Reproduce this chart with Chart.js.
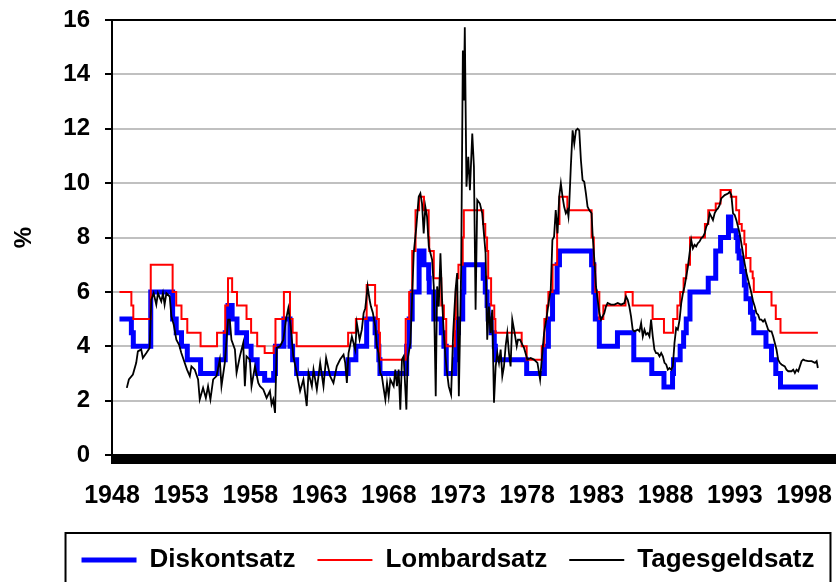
<!DOCTYPE html>
<html>
<head>
<meta charset="utf-8">
<title>Diskontsatz, Lombardsatz, Tagesgeldsatz 1948-1998</title>
<script src="https://cdn.jsdelivr.net/npm/chart.js@4.4.1/dist/chart.umd.min.js"></script>
<style>
    html, body { margin: 0; padding: 0; background: #fff; overflow: hidden; }
    #wrap { width: 896px; height: 600px; }
</style>
</head>
<body>
<div id="wrap"><canvas id="zinsChart" width="896" height="600"></canvas></div>
<script>
/* ==============================
   DATEN
================================ */
const seriesNames = ["Diskontsatz", "Lombardsatz", "Tagesgeldsatz"];
const yTicks = [0, 2, 4, 6, 8, 10, 12, 14, 16];
const yearLabels = [1948, 1953, 1958, 1963, 1968, 1973, 1978, 1983, 1988, 1993, 1998];

// Diskontsatz: Jahr der Änderung -> neuer Satz
const discYears = [1948.54, 1949.4, 1949.54, 1950.8, 1952.38, 1952.64, 1953.02, 1953.44, 1954.4, 1955.59,
    1956.18, 1956.38, 1956.68, 1957.03, 1957.72, 1958.05, 1958.49, 1959.03, 1959.68, 1959.81,
    1960.42, 1960.86, 1961.05, 1961.34, 1965.06, 1965.62, 1966.4, 1967.01, 1967.13, 1967.28,
    1967.36, 1969.29, 1969.47, 1969.69, 1970.19, 1970.54, 1970.88, 1970.92, 1971.25, 1971.79,
    1971.98, 1972.15, 1972.77, 1972.84, 1972.92, 1973.03, 1973.34, 1973.42, 1974.82, 1974.97,
    1975.1, 1975.18, 1975.39, 1975.62, 1975.7, 1977.96, 1979.24, 1979.53, 1979.83, 1980.16,
    1980.33, 1982.65, 1982.81, 1982.92, 1983.21, 1984.52, 1985.7, 1987.0, 1987.88, 1988.5,
    1988.57, 1989.05, 1989.3, 1989.49, 1989.76, 1991.08, 1991.62, 1991.97, 1992.54, 1992.71,
    1993.1, 1993.21, 1993.31, 1993.5, 1993.69, 1993.81, 1994.13, 1994.29, 1994.37, 1995.25,
    1995.65, 1995.96, 1996.3, 1999.0];
const discRates = [5, 4.5, 4, 6, 5, 4.5, 4, 3.5, 3, 3.5,
    4.5, 5.5, 5, 4.5, 4, 3.5, 3, 2.75, 3, 4,
    5, 4, 3.5, 3, 3.5, 4, 5, 4.5, 4, 3.5,
    3, 4, 5, 6, 7.5, 7, 6.5, 6, 5, 4.5,
    4, 3, 3.5, 4, 4.5, 5, 6, 7, 6.5, 6,
    5.5, 5, 4.5, 4, 3.5, 3, 4, 5, 6, 7,
    7.5, 7, 6, 5, 4, 4.5, 3.5, 3, 2.5, 3,
    3.5, 4, 4.5, 5, 6, 6.5, 7.5, 8, 8.75, 8.25,
    8, 7.5, 7.25, 6.75, 6.25, 5.75, 5.25, 5, 4.5, 4,
    3.5, 3, 2.5, 2.5];

// Lombardsatz: Jahr der Änderung -> neuer Satz
const lombYears = [1948.54, 1949.4, 1949.54, 1950.8, 1952.38, 1952.64, 1953.02, 1953.44, 1954.4, 1955.59,
    1956.18, 1956.38, 1956.68, 1957.03, 1957.72, 1958.05, 1958.49, 1959.03, 1959.68, 1959.81,
    1960.42, 1960.86, 1961.05, 1961.34, 1965.06, 1965.62, 1966.4, 1967.01, 1967.13, 1967.28,
    1967.36, 1969.22, 1969.47, 1969.69, 1969.93, 1970.19, 1970.54, 1970.88, 1970.92, 1971.25,
    1971.79, 1971.98, 1972.15, 1972.77, 1972.84, 1972.92, 1973.03, 1973.34, 1973.42, 1974.82,
    1974.97, 1975.1, 1975.18, 1975.39, 1975.62, 1975.7, 1977.6, 1977.96, 1979.05, 1979.24,
    1979.42, 1979.53, 1979.83, 1980.16, 1980.33, 1980.9, 1982.65, 1982.81, 1982.92, 1983.21,
    1983.5, 1985.1, 1985.62, 1987.06, 1987.88, 1988.54, 1988.85, 1989.05, 1989.3, 1989.49,
    1989.76, 1990.84, 1991.08, 1991.62, 1991.97, 1992.71, 1993.1, 1993.31, 1993.5, 1993.69,
    1993.81, 1994.13, 1994.29, 1994.37, 1995.65, 1995.96, 1996.3, 1999.0];
const lombRates = [6, 5.5, 5, 7, 6, 5.5, 5, 4.5, 4, 4.5,
    5.5, 6.5, 6, 5.5, 5, 4.5, 4, 3.75, 4, 5,
    6, 5, 4.5, 4, 4.5, 5, 6.25, 5.5, 5, 4.5,
    3.5, 5, 6, 7.5, 9, 9.5, 9, 8, 7.5, 6.5,
    5.5, 5, 4, 5, 6, 6.5, 7, 8, 9, 8.5,
    8, 7.5, 6.5, 5.5, 5, 4.5, 4, 3.5, 4, 5,
    5.5, 6, 7, 8.5, 9.5, 9, 8, 7, 6, 5,
    5.5, 6, 5.5, 5, 4.5, 5, 5.5, 6, 6.5, 7,
    8, 8.5, 9, 9.25, 9.75, 9.5, 9, 8.5, 8.25, 7.75,
    7.25, 6.75, 6.5, 6, 5.5, 5, 4.5, 4.5];

// Tagesgeldsatz
const callYears = [1949.07, 1949.22, 1949.51, 1949.75, 1949.87, 1950.11, 1950.23, 1950.48, 1950.72, 1950.84,
    1951.01, 1951.2, 1951.32, 1951.56, 1951.68, 1951.8, 1951.93, 1952.17, 1952.29, 1952.46,
    1952.65, 1952.84, 1953.01, 1953.25, 1953.42, 1953.62, 1953.74, 1953.98, 1954.22, 1954.34,
    1954.58, 1954.78, 1954.94, 1955.11, 1955.31, 1955.55, 1955.79, 1955.91, 1956.15, 1956.39,
    1956.51, 1956.63, 1956.88, 1957.0, 1957.24, 1957.48, 1957.6, 1957.72, 1957.96, 1958.08,
    1958.33, 1958.57, 1958.69, 1958.93, 1959.17, 1959.41, 1959.53, 1959.65, 1959.78, 1959.9,
    1960.14, 1960.38, 1960.57, 1960.74, 1960.91, 1961.1, 1961.35, 1961.59, 1961.83, 1962.07,
    1962.2, 1962.44, 1962.56, 1962.8, 1963.04, 1963.28, 1963.47, 1963.76, 1964.0, 1964.24,
    1964.48, 1964.73, 1964.85, 1964.97, 1965.09, 1965.33, 1965.57, 1965.69, 1965.89, 1966.05,
    1966.18, 1966.3, 1966.47, 1966.61, 1966.71, 1966.85, 1967.02, 1967.14, 1967.26, 1967.38,
    1967.5, 1967.62, 1967.75, 1967.87, 1967.99, 1968.11, 1968.35, 1968.47, 1968.59, 1968.71,
    1968.83, 1968.95, 1969.07, 1969.27, 1969.36, 1969.56, 1969.68, 1969.8, 1969.99, 1970.16,
    1970.28, 1970.4, 1970.52, 1970.64, 1970.76, 1970.89, 1971.01, 1971.13, 1971.25, 1971.39,
    1971.49, 1971.61, 1971.73, 1971.85, 1971.97, 1972.09, 1972.21, 1972.33, 1972.5, 1972.65,
    1972.82, 1972.94, 1973.06, 1973.23, 1973.35, 1973.42, 1973.49, 1973.61, 1973.74, 1973.86,
    1974.03, 1974.15, 1974.27, 1974.39, 1974.58, 1974.75, 1974.87, 1974.99, 1975.11, 1975.23,
    1975.35, 1975.47, 1975.6, 1975.72, 1975.84, 1975.96, 1976.08, 1976.2, 1976.32, 1976.44,
    1976.56, 1976.68, 1976.8, 1976.92, 1977.09, 1977.24, 1977.33, 1977.48, 1977.65, 1977.77,
    1978.01, 1978.25, 1978.49, 1978.74, 1978.93, 1979.03, 1979.22, 1979.41, 1979.58, 1979.7,
    1979.82, 1979.94, 1980.06, 1980.19, 1980.31, 1980.43, 1980.55, 1980.67, 1980.79, 1980.91,
    1980.98, 1981.03, 1981.15, 1981.28, 1981.4, 1981.52, 1981.64, 1981.76, 1981.88, 1982.0,
    1982.12, 1982.24, 1982.36, 1982.48, 1982.65, 1982.72, 1982.85, 1982.97, 1983.09, 1983.21,
    1983.33, 1983.45, 1983.57, 1983.69, 1983.81, 1984.05, 1984.3, 1984.54, 1984.78, 1985.02,
    1985.14, 1985.26, 1985.38, 1985.5, 1985.62, 1985.74, 1985.99, 1986.11, 1986.23, 1986.35,
    1986.47, 1986.59, 1986.71, 1986.83, 1986.95, 1987.07, 1987.19, 1987.31, 1987.43, 1987.56,
    1987.68, 1987.8, 1987.92, 1988.04, 1988.16, 1988.28, 1988.4, 1988.52, 1988.64, 1988.76,
    1988.88, 1989.01, 1989.13, 1989.25, 1989.37, 1989.49, 1989.61, 1989.73, 1989.85, 1989.97,
    1990.09, 1990.21, 1990.33, 1990.45, 1990.57, 1990.7, 1990.82, 1990.94, 1991.06, 1991.18,
    1991.3, 1991.42, 1991.54, 1991.66, 1991.78, 1991.9, 1992.02, 1992.27, 1992.51, 1992.63,
    1992.75, 1992.87, 1992.99, 1993.11, 1993.23, 1993.35, 1993.47, 1993.59, 1993.71, 1993.84,
    1993.96, 1994.08, 1994.2, 1994.32, 1994.44, 1994.56, 1994.68, 1994.8, 1994.92, 1995.04,
    1995.16, 1995.29, 1995.41, 1995.53, 1995.65, 1995.77, 1995.89, 1996.01, 1996.13, 1996.25,
    1996.37, 1996.61, 1996.73, 1996.86, 1997.1, 1997.22, 1997.34, 1997.46, 1997.58, 1997.82,
    1997.94, 1998.06, 1998.3, 1998.55, 1998.79, 1998.91, 1999.0];
const callRates = [2.47, 2.78, 2.96, 3.39, 3.81, 3.88, 3.57, 3.75, 3.94, 5.71,
    5.95, 5.53, 5.95, 5.65, 5.95, 5.53, 5.95, 5.83, 5.1, 4.79,
    4.24, 4.06, 3.75, 3.39, 3.14, 2.9, 3.26, 3.14, 2.78, 2.04,
    2.47, 2.1, 2.53, 2.04, 2.78, 2.9, 3.51, 2.53, 3.39, 4.98,
    4.98, 4.24, 3.88, 3.02, 3.63, 4.12, 2.53, 3.63, 3.51, 2.53,
    3.26, 2.65, 2.53, 2.41, 2.1, 2.35, 1.86, 2.04, 1.55, 3.94,
    4.0, 4.24, 4.98, 5.4, 4.73, 3.63, 3.02, 2.35, 2.78, 1.8,
    3.02, 2.53, 3.14, 2.41, 3.39, 2.53, 3.57, 2.9, 2.65, 3.26,
    3.51, 3.69, 3.39, 2.65, 3.75, 4.36, 3.88, 4.85, 4.24, 4.61,
    5.22, 5.4, 6.2, 5.71, 5.46, 5.22, 4.73, 4.0, 3.75, 3.02,
    2.9, 2.47, 2.04, 2.65, 2.16, 2.78, 2.53, 3.14, 2.53, 3.14,
    1.67, 3.51, 3.63, 1.67, 3.51, 4.12, 5.71, 7.42, 8.4, 9.5,
    9.62, 9.25, 8.15, 9.13, 8.77, 7.67, 7.42, 7.18, 6.2, 2.16,
    6.2, 5.46, 7.42, 5.71, 4.49, 3.63, 3.02, 2.53, 2.22, 4.49,
    6.08, 6.69, 2.16, 6.93, 14.88, 13.04, 15.73, 9.87, 10.97, 9.74,
    11.82, 10.6, 5.34, 9.38, 9.25, 8.89, 8.15, 7.42, 4.24, 5.46,
    4.49, 5.34, 1.92, 3.26, 3.75, 3.39, 3.88, 2.9, 3.26, 4.0,
    4.49, 3.75, 3.26, 4.98, 4.49, 4.0, 4.24, 4.24, 4.06, 3.94,
    3.51, 3.57, 3.51, 3.39, 2.78, 3.39, 4.49, 5.1, 5.71, 6.08,
    7.91, 8.03, 9.01, 8.15, 9.5, 9.99, 9.5, 9.13, 8.89, 9.01,
    8.77, 9.13, 10.6, 11.94, 11.45, 11.94, 12.0, 11.94, 10.84, 10.11,
    10.05, 9.62, 9.13, 9.01, 8.89, 8.15, 7.18, 6.2, 5.71, 5.22,
    4.98, 5.1, 5.22, 5.46, 5.59, 5.53, 5.53, 5.59, 5.53, 5.59,
    5.83, 5.71, 5.46, 5.1, 4.61, 4.55, 4.61, 4.55, 4.85, 4.36,
    4.61, 4.43, 4.49, 4.36, 4.98, 4.36, 3.88, 3.75, 3.75, 3.63,
    3.75, 3.63, 3.39, 3.33, 3.14, 3.2, 3.14, 3.26, 4.12, 4.67,
    4.61, 4.98, 5.59, 5.95, 6.2, 6.56, 6.93, 7.42, 7.91, 7.6,
    7.73, 7.67, 7.79, 7.85, 7.97, 8.03, 8.15, 8.4, 8.52, 8.89,
    8.77, 8.64, 8.89, 9.01, 9.07, 9.19, 9.44, 9.56, 9.62, 9.68,
    9.56, 8.89, 8.83, 8.64, 8.4, 8.15, 7.79, 7.42, 7.05, 6.69,
    6.44, 6.2, 5.95, 5.65, 5.46, 5.22, 5.16, 4.98, 4.98, 4.91,
    4.98, 4.79, 4.61, 4.55, 4.55, 4.36, 4.12, 3.88, 3.51, 3.39,
    3.33, 3.26, 3.14, 3.08, 3.08, 3.14, 3.02, 3.14, 3.08, 3.45,
    3.51, 3.48, 3.45, 3.45, 3.39, 3.45, 3.2];

/* ==============================
   CHART
================================ */
function toPoints(xs, ys) {
    return xs.map((x, i) => ({ x: x, y: ys[i] }));
}

const legendFrame = {
    id: "legendFrame",
    afterDraw(chart) {
        const boxes = chart.legend.legendHitBoxes;
        if (!boxes || !boxes.length) return;
        const left = Math.min(...boxes.map(b => b.left)) - 16;
        const right = Math.max(...boxes.map(b => b.left + b.width)) + 16;
        const top = boxes[0].top - 14;
        const ctx = chart.ctx;
        ctx.save();
        ctx.strokeStyle = "#000";
        ctx.lineWidth = 2;
        ctx.strokeRect(left, top, right - left, 100);
        ctx.restore();
    }
};

Chart.defaults.font.family = "'Liberation Sans', Arial, sans-serif";
Chart.defaults.font.weight = "bold";
Chart.defaults.font.size = 25;
Chart.defaults.color = "#000";

new Chart(document.getElementById("zinsChart"), {
    type: "line",
    data: {
        datasets: [
            {
                label: seriesNames[2],
                data: toPoints(callYears, callRates),
                borderColor: "#000000",
                borderWidth: 1.8,
                pointRadius: 0,
                tension: 0
            },
            {
                label: seriesNames[1],
                data: toPoints(lombYears, lombRates),
                borderColor: "#ff0000",
                borderWidth: 2,
                pointRadius: 0,
                stepped: true
            },
            {
                label: seriesNames[0],
                data: toPoints(discYears, discRates),
                borderColor: "#0000ff",
                borderWidth: 5,
                pointRadius: 0,
                stepped: true
            }
        ]
    },
    options: {
        responsive: false,
        animation: false,
        events: [],
        layout: { padding: { top: 20, right: 0, bottom: 17, left: 0 } },
        plugins: {
            tooltip: { enabled: false },
            legend: {
                position: "bottom",
                reverse: true,
                labels: {
                    font: { size: 26, weight: "bold" },
                    color: "#000",
                    usePointStyle: true,
                    pointStyle: "line",
                    pointStyleWidth: 55,
                    padding: 22
                }
            }
        },
        scales: {
            x: {
                type: "linear",
                min: 1948,
                max: 2003.47,
                afterBuildTicks: (scale) => {
                    const t = [];
                    for (let m = 0; 1948 + m / 12 <= scale.max; m++) t.push({ value: 1948 + m / 12 });
                    scale.ticks = t;
                },
                afterFit: (scale) => { scale.height = 70; },
                ticks: {
                    autoSkip: false,
                    maxRotation: 0,
                    minRotation: 0,
                    padding: 17,
                    callback: (value, index) => {
                        const yr = yearLabels[index / 60];
                        return index % 60 === 0 && yr !== undefined ? String(yr) : "";
                    }
                },
                grid: {
                    drawOnChartArea: false,
                    drawTicks: true,
                    tickLength: 9,
                    tickColor: "#000",
                    lineWidth: 2
                },
                border: { color: "#000", width: 2 }
            },
            y: {
                min: 0,
                max: 16,
                afterBuildTicks: (scale) => { scale.ticks = yTicks.map(v => ({ value: v })); },
                afterFit: (scale) => {
                    scale.width = 112;
                    scale.paddingTop = 10;
                    scale.paddingBottom = 10;
                },
                ticks: { padding: 15, font: { size: 24 } },
                title: {
                    display: true,
                    text: "%",
                    font: { size: 24, weight: "bold" },
                    padding: { top: 10, bottom: 0 }
                },
                grid: {
                    color: (ctx) => (ctx.tick && (ctx.tick.value === 16 || ctx.tick.value === 0)) ? "#000" : "#c0c0c0",
                    lineWidth: 2,
                    tickColor: "#000",
                    tickLength: 7
                },
                border: { color: "#000", width: 2 }
            }
        }
    },
    plugins: [legendFrame]
});
</script>
</body>
</html>
